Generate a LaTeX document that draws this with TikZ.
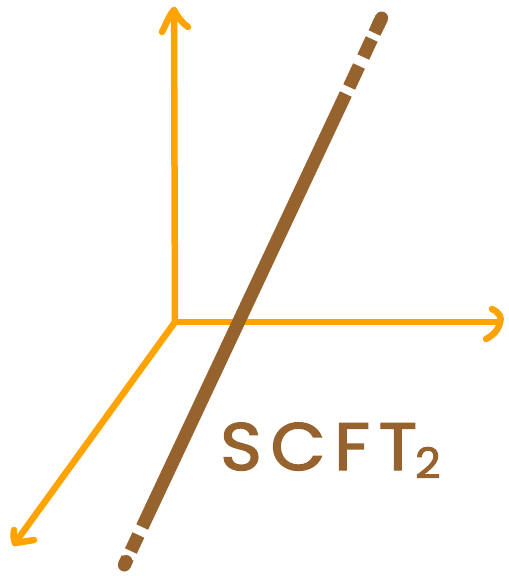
\documentclass[tikz,border=0pt]{standalone}
\usepackage{fontspec}
\newfontfamily\handfont{Poppins}[FakeBold=2.2,FakeStretch=1.06]
\definecolor{axisorange}{RGB}{255,163,0}
\definecolor{stringbrown}{RGB}{150,98,46}
\begin{document}
\begin{tikzpicture}[x=1pt,y=-1pt,
  axis/.style={draw=axisorange,line width=6.5pt,line cap=round,line join=round},
  string/.style={draw=stringbrown,line width=13pt,line cap=butt},
  stringend/.style={draw=stringbrown,line width=13pt,line cap=round}]
\useasboundingbox (0,0) rectangle (509,576);
% axes
\coordinate (O) at (175,322);
\coordinate (Ytip) at (174,10);
\coordinate (Xtip) at (500,322);
\coordinate (Ztip) at (15,543);
\draw[axis] (O) -- (Ytip);
\draw[axis] (O) -- (Xtip);
\draw[axis] (O) -- (Ztip);
% arrowheads
\coordinate (Yl) at (162,32);
\coordinate (Yr) at (188,27);
\draw[axis] (Yl) .. controls (167,22) and (170,14) .. (Ytip) .. controls (177,16) and (182,23) .. (Yr);
\coordinate (Xu) at (492,309);
\coordinate (Xd) at (486,339);
\draw[axis] (Xu) .. controls (500,313) and (502,318) .. (Xtip) .. controls (499,330) and (492,336) .. (Xd);
\coordinate (Zu) at (14,530);
\coordinate (Zr) at (34,540);
\draw[axis] (Zu) .. controls (13,536) and (14,540) .. (Ztip) .. controls (22,542) and (28,541) .. (Zr);
% string
\coordinate (S1a) at (381.6,18);  \coordinate (S1m) at (378,25.5); \coordinate (S1b) at (374.5,33);
\coordinate (S2a) at (371.7,39);  \coordinate (S2b) at (363.3,57);
\coordinate (S3a) at (359.0,66);  \coordinate (S3b) at (349.2,87);
\coordinate (S4a) at (345.8,94);  \coordinate (S4b) at (142.2,527);
\coordinate (S5a) at (138.4,535); \coordinate (S5b) at (130.9,551);
\coordinate (S6a) at (127.6,558); \coordinate (S6m) at (126,561.5); \coordinate (S6b) at (124.4,565);
\draw[stringend] (S1a) -- (S1m);
\draw[string] (S1a) -- (S1b);
\draw[string] (S2a) -- (S2b);
\draw[string] (S3a) -- (S3b);
\draw[string] (S4a) -- (S4b);
\draw[string] (S5a) -- (S5b);
\draw[stringend] (S6m) -- (S6b);
\draw[string] (S6a) -- (S6b);
% label
\node[text=stringbrown,anchor=base west,inner sep=0pt] (label) at (220,470)
  {\fontsize{67}{67}\selectfont\handfont\addfontfeature{LetterSpace=13}SCFT\hspace{-2pt}\raisebox{-8pt}{\fontsize{42}{42}\selectfont 2}};
\end{tikzpicture}
\end{document}
